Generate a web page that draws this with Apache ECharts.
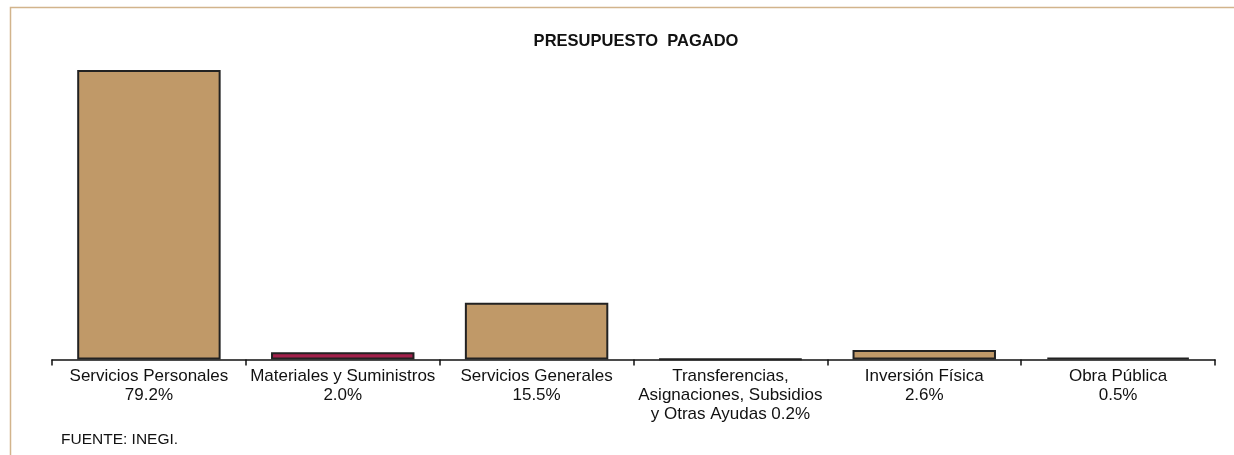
<!DOCTYPE html>
<html>
<head>
<meta charset="utf-8">
<script src="https://cdn.jsdelivr.net/npm/echarts@6/dist/echarts.min.js"></script>
<style>
  html, body { margin: 0; padding: 0; background: #fff; }
  #chart { width: 1234px; height: 455px; }
</style>
</head>
<body>
<div id="chart"></div>
<script>
// data
const categories = [
  'Servicios Personales',
  'Materiales y Suministros',
  'Servicios Generales',
  'Transferencias, Asignaciones, Subsidios y Otras Ayudas',
  'Inversión Física',
  'Obra Pública'
];
const values = [79.2, 2.0, 15.5, 0.2, 2.6, 0.5];
const tickLabels = [
  'Servicios Personales\n79.2%',
  'Materiales y Suministros\n2.0%',
  'Servicios Generales\n15.5%',
  'Transferencias,\nAsignaciones, Subsidios\ny Otras Ayudas 0.2%',
  'Inversión Física\n2.6%',
  'Obra Pública\n0.5%'
];
const barColors = ['#c09968', '#a3204b', '#c09968', '#c09968', '#c09968', '#c09968'];

const font = '"Liberation Sans", Arial, sans-serif';

const chart = echarts.init(document.getElementById('chart'));
chart.setOption({
  animation: false,
  backgroundColor: '#fff',
  title: {
    text: 'PRESUPUESTO  PAGADO',
    left: 631,
    top: 28,
    textAlign: 'center',
    textStyle: { fontFamily: font, fontSize: 16.5, fontWeight: 'bold', color: '#111' }
  },
  graphic: [
    {
      type: 'rect',
      shape: { x: 10.5, y: 7.5, width: 1400, height: 600 },
      style: { fill: 'none', stroke: '#d2b48c', lineWidth: 1.5 },
      silent: true
    },
    {
      type: 'text',
      left: 61,
      top: 432,
      style: { text: 'FUENTE: INEGI.', font: '15.5px ' + font, fill: '#111' }
    }
  ],
  grid: { left: 52, right: 19, top: 70, bottom: 95.5 },
  xAxis: {
    type: 'category',
    data: categories,
    axisLine: { lineStyle: { color: '#111', width: 1.5 } },
    axisTick: { show: true, length: 6, lineStyle: { color: '#111', width: 1.5 } },
    axisLabel: {
      interval: 0,
      margin: 7,
      fontFamily: font,
      fontSize: 17,
      lineHeight: 19,
      color: '#111',
      formatter: (v, i) => tickLabels[i]
    }
  },
  yAxis: {
    type: 'value',
    min: 0,
    max: 'dataMax',
    show: false,
    splitLine: { show: false }
  },
  series: [{
    type: 'bar',
    data: values.map((v, i) => ({ value: v, itemStyle: { color: barColors[i] } })),
    barCategoryGap: '26%',
    itemStyle: { borderColor: '#222', borderWidth: 2 }
  }]
});
</script>
</body>
</html>
